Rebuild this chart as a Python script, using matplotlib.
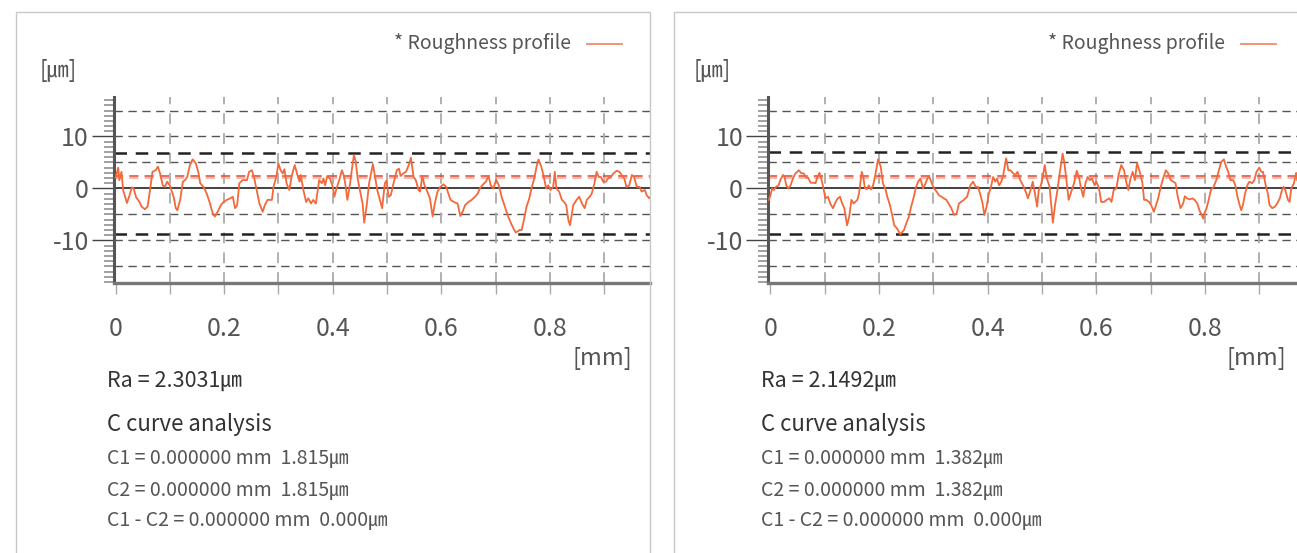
import numpy as np
import matplotlib
matplotlib.use("Agg")
import matplotlib.pyplot as plt
from matplotlib.ticker import MultipleLocator
from matplotlib.patches import Rectangle
from matplotlib.lines import Line2D

plt.rcParams['font.family'] = ['Noto Sans CJK KR', 'DejaVu Sans']

# ---- data ----
# left profile: position [mm], height [um]
left_x = [0.000, 0.005, 0.007, 0.011, 0.014, 0.021, 0.025, 0.030, 0.033, 0.038,
          0.044, 0.048, 0.054, 0.059, 0.064, 0.068, 0.074, 0.078, 0.082, 0.087,
          0.091, 0.095, 0.100, 0.107, 0.111, 0.114, 0.119, 0.124, 0.128, 0.132,
          0.137, 0.142, 0.148, 0.153, 0.156, 0.162, 0.168, 0.174, 0.179, 0.183,
          0.188, 0.194, 0.199, 0.205, 0.211, 0.216, 0.220, 0.224, 0.228, 0.234,
          0.242, 0.246, 0.251, 0.255, 0.260, 0.265, 0.271, 0.275, 0.280, 0.288,
          0.291, 0.296, 0.300, 0.304, 0.308, 0.311, 0.315, 0.320, 0.325, 0.330,
          0.335, 0.339, 0.341, 0.346, 0.351, 0.355, 0.360, 0.364, 0.369, 0.375,
          0.380, 0.383, 0.386, 0.390, 0.395, 0.400, 0.403, 0.407, 0.412, 0.417,
          0.420, 0.423, 0.427, 0.432, 0.436, 0.439, 0.442, 0.446, 0.450, 0.455,
          0.458, 0.463, 0.467, 0.474, 0.478, 0.482, 0.487, 0.491, 0.496, 0.499,
          0.503, 0.507, 0.512, 0.518, 0.522, 0.525, 0.530, 0.535, 0.540, 0.544,
          0.549, 0.553, 0.558, 0.561, 0.565, 0.569, 0.573, 0.579, 0.584, 0.588,
          0.593, 0.598, 0.604, 0.609, 0.613, 0.617, 0.623, 0.630, 0.635, 0.639,
          0.644, 0.650, 0.656, 0.662, 0.667, 0.671, 0.677, 0.682, 0.687, 0.691,
          0.696, 0.701, 0.706, 0.711, 0.717, 0.723, 0.730, 0.737, 0.744, 0.748,
          0.752, 0.757, 0.762, 0.766, 0.771, 0.776, 0.779, 0.784, 0.788, 0.793,
          0.797, 0.801, 0.806, 0.809, 0.812, 0.817, 0.822, 0.826, 0.830, 0.834,
          0.837, 0.840, 0.843, 0.849, 0.854, 0.859, 0.864, 0.868, 0.873, 0.877,
          0.882, 0.886, 0.890, 0.894, 0.898, 0.903, 0.907, 0.912, 0.917, 0.923,
          0.928, 0.932, 0.937, 0.941, 0.946, 0.951, 0.955, 0.960, 0.965, 0.969,
          0.975, 0.978, 0.983, 0.987]
left_y = [2.1, 4.0, 1.6, 3.2, -0.3, -2.8, -1.6, 0.2, 0.1, -1.7,
          -2.6, -3.5, -4.0, -3.5, 0.0, 3.2, 3.5, 4.2, 2.9, 0.6,
          0.3, 1.3, 0.6, -1.6, -3.8, -4.2, -2.2, 1.3, 1.6, 2.2,
          4.5, 5.6, 4.8, 2.9, 1.0, 0.3, -1.0, -2.9, -4.8, -5.4,
          -4.5, -3.2, -2.6, -2.2, -1.9, -1.6, -3.8, -3.2, 1.0, 1.6,
          1.6, 3.2, 3.5, 2.2, -0.3, -2.9, -4.5, -3.2, -2.2, -2.2,
          0.3, 2.2, 4.8, 3.5, 2.9, 3.7, 1.0, -0.3, 2.6, 4.5,
          2.6, 1.3, 2.6, -0.3, -2.6, -1.9, -2.9, -2.2, -2.9, 1.6,
          1.0, 1.9, 0.6, 2.4, 1.9, 0.3, -1.6, 0.0, 1.6, 3.5,
          2.6, 1.0, -2.2, 1.0, 4.2, 6.4, 5.4, 1.9, -0.3, -2.9,
          -6.6, -2.9, 1.0, 4.7, 2.2, -0.3, -2.2, -3.8, 1.0, 1.5,
          -1.6, -1.3, 1.0, 3.5, 3.8, 2.4, 2.9, 3.2, 4.5, 5.9,
          2.2, 1.6, -0.3, -0.6, 2.4, 0.6, -0.3, -1.9, -5.4, -2.9,
          -0.6, 0.3, 0.8, 0.3, -1.0, -2.2, -2.6, -2.9, -5.3, -4.5,
          -3.2, -2.6, -2.2, -1.6, -1.0, 0.0, 0.8, 1.3, 2.4, 0.6,
          0.0, 1.7, 0.6, -1.6, -3.5, -5.4, -7.1, -8.5, -8.0, -8.0,
          -6.1, -3.5, -1.9, 0.0, 1.9, 4.5, 5.6, 4.2, 2.6, 0.0,
          0.6, -0.3, 0.3, 3.2, 0.0, -0.6, -2.2, -2.6, -3.2, -6.1,
          -7.1, -5.1, -3.2, -2.2, -1.6, -2.9, -3.8, -2.2, -1.6, -1.0,
          1.0, 3.2, 2.2, 2.2, 1.3, 1.3, 1.9, 2.2, 2.9, 3.4,
          3.2, 2.6, 1.9, 0.3, 0.6, 2.6, 2.2, 0.3, 0.3, -0.6,
          -0.3, -1.3, -1.9, -1.3]

# right profile
right_x = [-0.003, 0.000, 0.003, 0.006, 0.010, 0.015, 0.018, 0.023, 0.026, 0.029,
           0.033, 0.037, 0.042, 0.046, 0.052, 0.057, 0.061, 0.066, 0.069, 0.074,
           0.079, 0.083, 0.086, 0.090, 0.093, 0.097, 0.101, 0.106, 0.110, 0.115,
           0.120, 0.124, 0.128, 0.132, 0.136, 0.141, 0.145, 0.149, 0.153, 0.160,
           0.163, 0.168, 0.171, 0.174, 0.178, 0.181, 0.185, 0.189, 0.193, 0.198,
           0.203, 0.207, 0.212, 0.215, 0.220, 0.224, 0.228, 0.233, 0.239, 0.246,
           0.250, 0.255, 0.259, 0.264, 0.268, 0.272, 0.276, 0.281, 0.284, 0.289,
           0.292, 0.296, 0.301, 0.306, 0.310, 0.315, 0.319, 0.324, 0.328, 0.333,
           0.338, 0.343, 0.347, 0.351, 0.356, 0.362, 0.368, 0.373, 0.378, 0.382,
           0.386, 0.390, 0.394, 0.398, 0.402, 0.406, 0.410, 0.414, 0.417, 0.421,
           0.425, 0.428, 0.434, 0.438, 0.442, 0.447, 0.451, 0.455, 0.460, 0.465,
           0.470, 0.474, 0.479, 0.483, 0.487, 0.491, 0.494, 0.498, 0.502, 0.505,
           0.509, 0.514, 0.517, 0.520, 0.524, 0.528, 0.533, 0.538, 0.541, 0.545,
           0.549, 0.554, 0.559, 0.564, 0.568, 0.572, 0.576, 0.580, 0.584, 0.588,
           0.592, 0.597, 0.600, 0.605, 0.609, 0.614, 0.619, 0.624, 0.628, 0.632,
           0.637, 0.641, 0.646, 0.651, 0.655, 0.659, 0.663, 0.667, 0.671, 0.675,
           0.680, 0.685, 0.688, 0.692, 0.697, 0.701, 0.706, 0.710, 0.714, 0.718,
           0.723, 0.728, 0.732, 0.737, 0.742, 0.746, 0.750, 0.755, 0.760, 0.763,
           0.767, 0.772, 0.777, 0.781, 0.786, 0.790, 0.794, 0.797, 0.799, 0.803,
           0.807, 0.811, 0.816, 0.821, 0.825, 0.830, 0.835, 0.839, 0.843, 0.847,
           0.852, 0.856, 0.860, 0.864, 0.867, 0.870, 0.874, 0.878, 0.882, 0.887,
           0.891, 0.895, 0.900, 0.904, 0.907, 0.912, 0.916, 0.919, 0.924, 0.929,
           0.933, 0.938, 0.942, 0.945, 0.948, 0.953, 0.956, 0.959, 0.964, 0.968,
           0.970]
right_y = [-2.2, -1.3, 0.0, -0.3, 0.3, 0.6, 1.6, 2.6, 2.2, 0.6,
           0.0, 0.6, 2.1, 2.9, 3.5, 2.9, 2.9, 2.1, 2.1, 1.1,
           1.1, 1.0, 2.1, 3.0, 2.1, 0.3, -1.9, -1.6, -2.9, -3.8,
           -2.6, -1.9, -1.6, -2.9, -3.8, -7.1, -5.4, -2.2, -2.9, -2.2,
           -1.0, 3.2, 2.1, 0.0, -0.1, 0.6, -0.2, 0.6, 2.6, 5.6,
           4.2, 1.0, -0.2, -1.6, -3.2, -5.1, -7.1, -7.7, -8.8, -8.0,
           -6.7, -5.4, -3.5, -1.6, 0.3, 1.3, 1.9, 0.0, 0.6, 1.9,
           2.4, 1.3, 0.0, -0.6, -1.3, -1.6, -1.9, -2.2, -2.9, -3.8,
           -5.1, -4.8, -2.9, -2.6, -2.2, -1.6, 0.6, 1.3, 0.3, 0.3,
           -1.0, -2.6, -5.1, -3.5, -1.0, 0.3, 2.2, 1.3, 1.9, 0.6,
           1.3, 2.2, 5.8, 3.5, 3.5, 2.9, 2.6, 3.2, 1.6, 0.6,
           -0.6, -1.9, -0.3, 1.3, -1.0, -3.5, -0.3, 0.6, 2.6, 4.5,
           1.9, 0.3, -3.2, -6.6, -3.2, -0.6, 3.2, 6.7, 5.1, 1.6,
           -2.2, -0.6, 1.0, 3.4, 2.2, 0.0, -1.6, 1.0, 2.2, 1.6,
           1.9, 0.6, 1.3, 0.0, -2.6, -2.6, -2.2, -1.9, -2.6, -0.3,
           0.0, 2.6, 4.5, 3.5, 1.3, -0.3, 1.9, 3.2, 1.6, 4.9,
           3.2, 1.0, -2.2, -2.2, -2.6, -3.2, -4.5, -3.2, -1.9, 0.0,
           1.9, 3.5, 3.0, 1.6, 1.3, 1.0, -1.6, -3.8, -2.9, -1.5,
           -1.9, -2.1, -1.9, -2.2, -2.9, -4.2, -5.1, -5.8, -4.8, -3.8,
           -2.2, -0.3, 0.3, 1.6, 3.2, 5.1, 5.6, 4.2, 3.2, 1.6,
           1.6, 0.6, -1.6, -3.2, -4.2, -3.2, -1.0, 0.6, 1.3, 1.0,
           1.6, 3.2, 4.0, 3.2, 3.2, 0.6, -1.0, -3.2, -3.8, -3.5,
           -2.9, -1.9, -0.3, 0.3, -0.3, -2.2, -2.6, 0.0, 1.0, 3.0,
           1.6]

ra_text = ["Ra = 2.3031㎛", "Ra = 2.1492㎛"]
c1_text = ["C1 = 0.000000 mm  1.815㎛", "C1 = 0.000000 mm  1.382㎛"]
c2_text = ["C2 = 0.000000 mm  1.815㎛", "C2 = 0.000000 mm  1.382㎛"]
c12_text = ["C1 - C2 = 0.000000 mm  0.000㎛", "C1 - C2 = 0.000000 mm  0.000㎛"]
peak_level = [6.9, 7.0]
valley_level = [-8.85, -8.8]
red_levels = [2.4, 2.0]
xtick_vals = [0.0, 0.1, 0.2, 0.3, 0.4, 0.5, 0.6, 0.7, 0.8, 0.9]
xtick_labels = ["0", "", "0.2", "", "0.4", "", "0.6", "", "0.8", ""]

W, H = 1297, 553
fig = plt.figure(figsize=(W / 100, H / 100), dpi=100)

line_col = '#f4683a'
txt_col = '#555555'


def fx(px):
    return px / W


def fy(py):
    return 1 - py / H


def panel(i, xs, ys, dx, frame_l, right_px, xmin):
    # frame of the card
    fig.add_artist(Rectangle((fx(frame_l), fy(600)), fx(right_px - frame_l), fy(12) - fy(600),
                             transform=fig.transFigure, fill=False, ec='#c8c8c8', lw=1.0))
    ax_l = 114 + dx
    ax_r = min(right_px, W)
    ax = fig.add_axes([fx(ax_l), fy(283), fx(ax_r - ax_l), (283 - 97) / H])
    xmax = xmin + (ax_r - ax_l) / 543
    ax.set_xlim(xmin, xmax)
    ax.set_ylim(-18.2, 17.6)
    for s in ['top', 'right']:
        ax.spines[s].set_visible(False)
    ax.spines['left'].set_color('#555555')
    ax.spines['left'].set_linewidth(2.2)
    ax.spines['bottom'].set_color('#777777')
    ax.spines['bottom'].set_linewidth(2.4)

    for v in [-15, -10, -5, 5, 10, 15]:
        ax.axhline(v, color='#555555', lw=1.0, dashes=(6, 4), zorder=1)
    for v in xtick_vals[1:]:
        ax.axvline(v, color='#aaaaaa', lw=1.3, dashes=(6, 5), zorder=1)
    ax.axhline(0, color='#333333', lw=1.3, zorder=2)
    ax.axhline(peak_level[i], color='#222222', lw=1.8, dashes=(5, 3.5), zorder=2)
    ax.axhline(valley_level[i], color='#222222', lw=1.8, dashes=(5, 3.5), zorder=2)
    ax.axhline(red_levels[0], color='#d9453c', lw=1.1, dashes=(6, 4), zorder=2)
    ax.axhline(red_levels[1], color='#f4a58a', lw=1.1, dashes=(6, 4), zorder=2)

    ax.plot(xs, ys, color=line_col, lw=1.3, zorder=3)

    ax.set_yticks([-10, 0, 10])
    ax.set_yticklabels(["-10", "0", "10"])
    ax.yaxis.set_minor_locator(MultipleLocator(1))
    ax.tick_params(axis='y', which='major', length=16, width=1.0, color='#444444',
                   labelsize=18, labelcolor=txt_col, pad=2)
    ax.tick_params(axis='y', which='minor', length=7, width=1.3, color='#999999')
    ax.set_xticks(xtick_vals)
    ax.set_xticklabels(xtick_labels)
    ax.tick_params(axis='x', which='major', length=8, width=1.0, color='#aaaaaa',
                   labelsize=18, labelcolor=txt_col, pad=16)

    fig.text(fx(40 + dx), fy(70), "[㎛]", fontsize=16, color=txt_col, va='center', ha='left')
    fig.text(fx(571 + dx), fy(43), "* Roughness profile", fontsize=14, color=txt_col,
             va='center', ha='right')
    fig.add_artist(Line2D([fx(587 + dx), fx(622 + dx)], [fy(44), fy(44)],
                          color='#f28a6a', lw=1.3, transform=fig.transFigure))
    fig.text(fx(632 + dx), fy(358), "[mm]", fontsize=17, color=txt_col, va='center', ha='right')
    fig.text(fx(107 + dx), fy(381), ra_text[i], fontsize=15.5, color='#333333', va='center', ha='left')
    fig.text(fx(107 + dx), fy(425), "C curve analysis", fontsize=16, color='#333333',
             va='center', ha='left')
    fig.text(fx(107 + dx), fy(458), c1_text[i], fontsize=14, color=txt_col, va='center', ha='left')
    fig.text(fx(107 + dx), fy(490), c2_text[i], fontsize=14, color=txt_col, va='center', ha='left')
    fig.text(fx(107 + dx), fy(520), c12_text[i], fontsize=14, color=txt_col, va='center', ha='left')


panel(0, left_x, left_y, 0, 16, 650, -0.0028)
panel(1, right_x, right_y, 654, 674, 1400, -0.0046)

fig.savefig("out.png", dpi=100)
